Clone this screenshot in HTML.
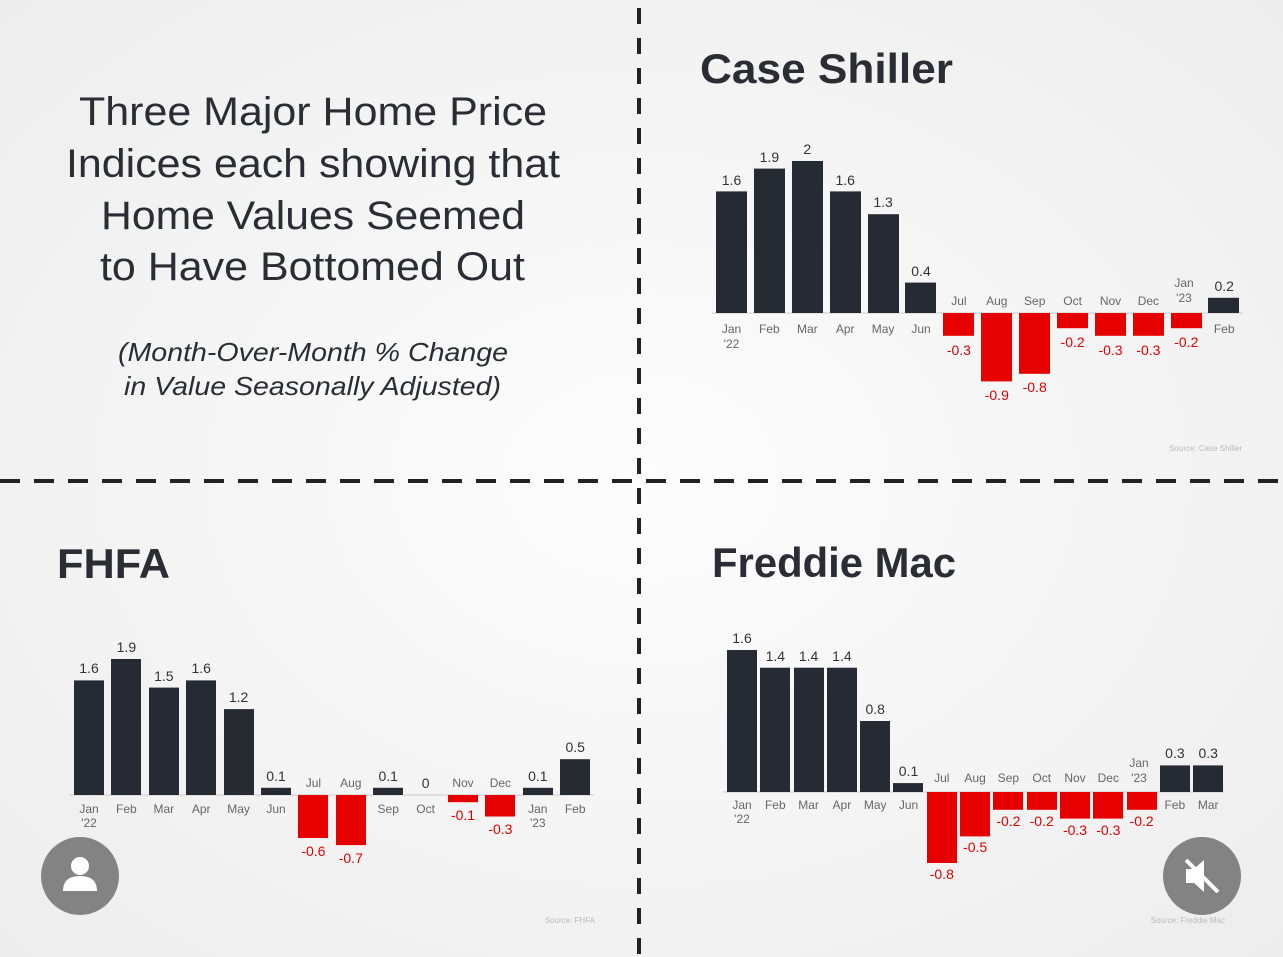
<!DOCTYPE html>
<html><head><meta charset="utf-8"><style>
html,body{margin:0;padding:0;background:#f4f4f4;}
svg{display:block;font-family:"Liberation Sans",Arial,sans-serif;}
.v{font-size:14px;fill:#333;text-anchor:middle}
.n{font-size:14px;fill:#e00000;text-anchor:middle}
.m{font-size:12px;fill:#666;text-anchor:middle}
.t{font-size:42px;font-weight:bold;fill:#2a2d34}
.h{font-size:40px;fill:#2a2d34}
.s{font-size:26px;font-style:italic;fill:#2a2d34}
.src{font-size:8px;fill:#bbb;text-anchor:end}
.k{fill:#262a33}.r{fill:#e60000}
</style></head><body>
<svg width="1283" height="957" viewBox="0 0 1283 957">
<defs><radialGradient id="bg" cx="50%" cy="50%" r="75%"><stop offset="0" stop-color="#fdfdfd"/><stop offset="1" stop-color="#ececec"/></radialGradient></defs>
<rect width="1283" height="957" fill="url(#bg)"/>
<line x1="639" y1="8" x2="639" y2="957" stroke="#222" stroke-width="4" stroke-dasharray="16,14"/>
<line x1="0" y1="481" x2="1283" y2="481" stroke="#222" stroke-width="4" stroke-dasharray="20,14"/>

<text class="h" x="79" y="125" textLength="468" lengthAdjust="spacingAndGlyphs">Three Major Home Price</text>
<text class="h" x="66" y="177" textLength="494" lengthAdjust="spacingAndGlyphs">Indices each showing that</text>
<text class="h" x="101" y="229" textLength="424" lengthAdjust="spacingAndGlyphs">Home Values Seemed</text>
<text class="h" x="100" y="280" textLength="425" lengthAdjust="spacingAndGlyphs">to Have Bottomed Out</text>
<text class="s" x="118" y="361" textLength="390" lengthAdjust="spacingAndGlyphs">(Month-Over-Month % Change</text>
<text class="s" x="124" y="395" textLength="377" lengthAdjust="spacingAndGlyphs">in Value Seasonally Adjusted)</text>

<!-- Case Shiller -->
<text class="t" x="700" y="83" textLength="253" lengthAdjust="spacingAndGlyphs">Case Shiller</text>
<line x1="712" y1="313" x2="1243" y2="313" stroke="#ccc"/>
<g>
<rect class="k" x="716" y="191.4" width="31" height="121.6"/>
<rect class="k" x="754" y="168.6" width="31" height="144.4"/>
<rect class="k" x="792" y="161" width="31" height="152"/>
<rect class="k" x="830" y="191.4" width="31" height="121.6"/>
<rect class="k" x="868" y="214.2" width="31" height="98.8"/>
<rect class="k" x="905" y="282.6" width="31" height="30.4"/>
<rect class="r" x="943" y="313" width="31" height="22.8"/>
<rect class="r" x="981" y="313" width="31" height="68.4"/>
<rect class="r" x="1019" y="313" width="31" height="60.8"/>
<rect class="r" x="1057" y="313" width="31" height="15.2"/>
<rect class="r" x="1095" y="313" width="31" height="22.8"/>
<rect class="r" x="1133" y="313" width="31" height="22.8"/>
<rect class="r" x="1171" y="313" width="31" height="15.2"/>
<rect class="k" x="1208" y="297.8" width="31" height="15.2"/>
</g>
<text class="v" x="731.5" y="185">1.6</text><text class="v" x="769.4" y="162">1.9</text><text class="v" x="807.3" y="154">2</text><text class="v" x="845.2" y="185">1.6</text><text class="v" x="883.1" y="207">1.3</text><text class="v" x="921" y="276">0.4</text><text class="v" x="1224.2" y="291">0.2</text>
<text class="n" x="958.9" y="355">-0.3</text><text class="n" x="996.8" y="400">-0.9</text><text class="n" x="1034.7" y="392">-0.8</text><text class="n" x="1072.6" y="347">-0.2</text><text class="n" x="1110.5" y="355">-0.3</text><text class="n" x="1148.4" y="355">-0.3</text><text class="n" x="1186.3" y="347">-0.2</text>
<text class="m" x="731.5" y="333">Jan</text><text class="m" x="731.5" y="348">'22</text><text class="m" x="769.4" y="333">Feb</text><text class="m" x="807.3" y="333">Mar</text><text class="m" x="845.2" y="333">Apr</text><text class="m" x="883.1" y="333">May</text><text class="m" x="921" y="333">Jun</text>
<text class="m" x="958.9" y="305">Jul</text><text class="m" x="996.8" y="305">Aug</text><text class="m" x="1034.7" y="305">Sep</text><text class="m" x="1072.6" y="305">Oct</text><text class="m" x="1110.5" y="305">Nov</text><text class="m" x="1148.4" y="305">Dec</text><text class="m" x="1184" y="287">Jan</text><text class="m" x="1184" y="302">'23</text><text class="m" x="1224.2" y="333">Feb</text>
<text class="src" x="1242" y="451">Source: Case Shiller</text>

<!-- FHFA -->
<text class="t" x="57" y="578" textLength="113" lengthAdjust="spacingAndGlyphs">FHFA</text>
<line x1="70" y1="795" x2="594" y2="795" stroke="#ccc"/>
<rect class="k" x="74" y="680.4" width="30" height="114.6"/>
<rect class="k" x="111" y="659" width="30" height="136"/>
<rect class="k" x="149" y="687.6" width="30" height="107.4"/>
<rect class="k" x="186" y="680.4" width="30" height="114.6"/>
<rect class="k" x="224" y="709.1" width="30" height="85.9"/>
<rect class="k" x="261" y="787.8" width="30" height="7.2"/>
<rect class="r" x="298" y="795" width="30" height="43"/>
<rect class="r" x="336" y="795" width="30" height="50.1"/>
<rect class="k" x="373" y="787.8" width="30" height="7.2"/>
<rect class="r" x="448" y="795" width="30" height="7.2"/>
<rect class="r" x="485" y="795" width="30" height="21.5"/>
<rect class="k" x="523" y="787.8" width="30" height="7.2"/>
<rect class="k" x="560" y="759.2" width="30" height="35.8"/>
<text class="v" x="89" y="673">1.6</text><text class="v" x="126.4" y="652">1.9</text><text class="v" x="163.8" y="681">1.5</text><text class="v" x="201.2" y="673">1.6</text><text class="v" x="238.6" y="702">1.2</text><text class="v" x="276" y="781">0.1</text><text class="v" x="388.2" y="781">0.1</text><text class="v" x="425.6" y="788">0</text><text class="v" x="537.8" y="781">0.1</text><text class="v" x="575.2" y="752">0.5</text>
<text class="n" x="313.4" y="856">-0.6</text><text class="n" x="350.8" y="863">-0.7</text><text class="n" x="463" y="820">-0.1</text><text class="n" x="500.4" y="834">-0.3</text>
<text class="m" x="89" y="813">Jan</text><text class="m" x="89" y="827">'22</text><text class="m" x="126.4" y="813">Feb</text><text class="m" x="163.8" y="813">Mar</text><text class="m" x="201.2" y="813">Apr</text><text class="m" x="238.6" y="813">May</text><text class="m" x="276" y="813">Jun</text><text class="m" x="313.4" y="787">Jul</text><text class="m" x="350.8" y="787">Aug</text><text class="m" x="388.2" y="813">Sep</text><text class="m" x="425.6" y="813">Oct</text><text class="m" x="463" y="787">Nov</text><text class="m" x="500.4" y="787">Dec</text><text class="m" x="537.8" y="813">Jan</text><text class="m" x="537.8" y="827">'23</text><text class="m" x="575.2" y="813">Feb</text>
<text class="src" x="595" y="923">Source: FHFA</text>

<!-- Freddie Mac -->
<text class="t" x="712" y="577" textLength="244" lengthAdjust="spacingAndGlyphs">Freddie Mac</text>
<line x1="723" y1="792" x2="1225" y2="792" stroke="#ccc"/>
<rect class="k" x="727" y="650" width="30" height="142"/>
<rect class="k" x="760" y="667.7" width="30" height="124.3"/>
<rect class="k" x="794" y="667.7" width="30" height="124.3"/>
<rect class="k" x="827" y="667.7" width="30" height="124.3"/>
<rect class="k" x="860" y="721" width="30" height="71"/>
<rect class="k" x="893" y="783.1" width="30" height="8.9"/>
<rect class="r" x="927" y="792" width="30" height="71"/>
<rect class="r" x="960" y="792" width="30" height="44.4"/>
<rect class="r" x="993" y="792" width="30" height="17.8"/>
<rect class="r" x="1027" y="792" width="30" height="17.8"/>
<rect class="r" x="1060" y="792" width="30" height="26.6"/>
<rect class="r" x="1093" y="792" width="30" height="26.6"/>
<rect class="r" x="1127" y="792" width="30" height="17.8"/>
<rect class="k" x="1160" y="765.4" width="30" height="26.6"/>
<rect class="k" x="1193" y="765.4" width="30" height="26.6"/>
<text class="v" x="742" y="643">1.6</text><text class="v" x="775.3" y="661">1.4</text><text class="v" x="808.6" y="661">1.4</text><text class="v" x="841.9" y="661">1.4</text><text class="v" x="875.2" y="714">0.8</text><text class="v" x="908.5" y="776">0.1</text><text class="v" x="1174.9" y="758">0.3</text><text class="v" x="1208.2" y="758">0.3</text>
<text class="n" x="941.8" y="879">-0.8</text><text class="n" x="975.1" y="852">-0.5</text><text class="n" x="1008.4" y="826">-0.2</text><text class="n" x="1041.7" y="826">-0.2</text><text class="n" x="1075" y="835">-0.3</text><text class="n" x="1108.3" y="835">-0.3</text><text class="n" x="1141.6" y="826">-0.2</text>
<text class="m" x="742" y="809">Jan</text><text class="m" x="742" y="823">'22</text><text class="m" x="775.3" y="809">Feb</text><text class="m" x="808.6" y="809">Mar</text><text class="m" x="841.9" y="809">Apr</text><text class="m" x="875.2" y="809">May</text><text class="m" x="908.5" y="809">Jun</text><text class="m" x="941.8" y="782">Jul</text><text class="m" x="975.1" y="782">Aug</text><text class="m" x="1008.4" y="782">Sep</text><text class="m" x="1041.7" y="782">Oct</text><text class="m" x="1075" y="782">Nov</text><text class="m" x="1108.3" y="782">Dec</text><text class="m" x="1139" y="767">Jan</text><text class="m" x="1139" y="782">'23</text><text class="m" x="1174.9" y="809">Feb</text><text class="m" x="1208.2" y="809">Mar</text>
<text class="src" x="1225" y="923">Source: Freddie Mac</text>

<!-- overlay buttons -->
<circle cx="80" cy="876" r="39" fill="#777" opacity="0.9"/>
<circle cx="80" cy="866" r="9" fill="#fff"/>
<path d="M63 891 Q63 876 80 876 Q97 876 97 891 Z" fill="#fff"/>
<circle cx="1202" cy="876" r="39" fill="#777" opacity="0.9"/>
<path d="M1186 869 h8 l10 -9 v32 l-10 -9 h-8 z" fill="#fff"/>
<line x1="1186" y1="860" x2="1218" y2="892" stroke="#fff" stroke-width="4"/>
</svg>
</body></html>
